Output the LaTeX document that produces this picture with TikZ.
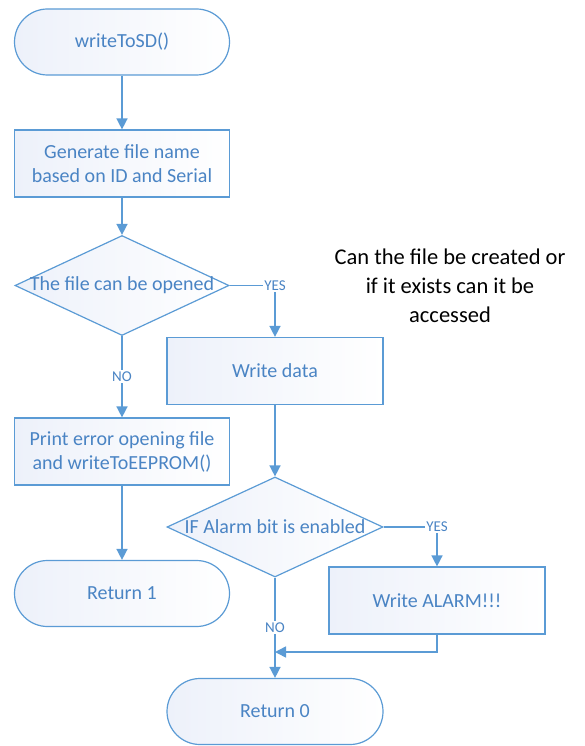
\documentclass[tikz,border=0pt]{standalone}
\usepackage{fontspec}
\setmainfont{Carlito}
\usetikzlibrary{shapes.geometric,arrows.meta}
\definecolor{lineblue}{HTML}{5B9BD5}
\definecolor{textblue}{HTML}{4A84C4}
\definecolor{fillblue}{HTML}{EDF1FA}
\tikzset{
  base/.style={draw=lineblue, line width=1.2pt, left color=fillblue, right color=white, text=textblue, font=\fontsize{20}{24}\selectfont, inner sep=0pt, align=center},
  term/.style={base, rectangle, rounded corners=33pt, minimum width=215pt, minimum height=66pt},
  proc/.style={base, rectangle, minimum width=215pt, minimum height=67pt},
  dia/.style={base, diamond, minimum width=214pt, minimum height=100pt},
  dtxt/.style={text=textblue, font=\fontsize{20}{24}\selectfont, inner sep=0pt},
  arr/.style={draw=lineblue, line width=1.5pt, -{Triangle[length=11pt,width=11pt]}},
  lab/.style={fill=white, text=textblue, font=\fontsize{15}{18}\selectfont, inner sep=1.5pt},
  note/.style={text=black, font=\fontsize{22.5}{29}\selectfont, align=center}
}
\begin{document}
\begin{tikzpicture}[x=1pt,y=-1pt]
\useasboundingbox (0,0) rectangle (584,746);
\node[term] (start) at (122,42) {writeToSD()};
\node[proc] (gen) at (122,163.5) {Generate file name\\based on ID and Serial};
\node[dia] (d1) at (122,285.5) {};
\node[dtxt] (d1t) at (d1.center) {The file can be opened};
\node[proc, minimum width=216pt] (wd) at (275,371) {Write data};
\node[proc] (err) at (122,451.5) {Print error opening file\\and writeToEEPROM()};
\node[term] (r1) at (122,593.5) {Return 1};
\node[dia, minimum width=216pt] (d2) at (275,527) {};
\node[dtxt] (d2t) at (d2.center) {IF Alarm bit is enabled};
\node[proc, minimum width=216pt] (wa) at (437,600.5) {Write ALARM!!!};
\node[term, minimum width=216pt] (r0) at (275,711.5) {Return 0};
\node[note] (nt) at (450,286) {Can the file be created or\\if it exists can it be\\accessed};
\coordinate (m) at (275,652);

\draw[arr] (start) -- (gen);
\draw[arr] (gen) -- (d1);
\draw[arr] (d1.east) -| node[lab, pos=0.5] {YES} (wd.north);
\draw[arr] (d1.south) -- node[lab] {NO} (err.north);
\draw[arr] (err) -- (r1);
\draw[arr] (wd) -- (d2);
\draw[arr] (d2.east) -| node[lab, pos=0.5] {YES} (wa.north);
\draw[arr] (d2.south) -- node[lab, pos=0.5] {NO} (r0.north);
\draw[arr] (wa.south) |- (m);
\end{tikzpicture}
\end{document}
